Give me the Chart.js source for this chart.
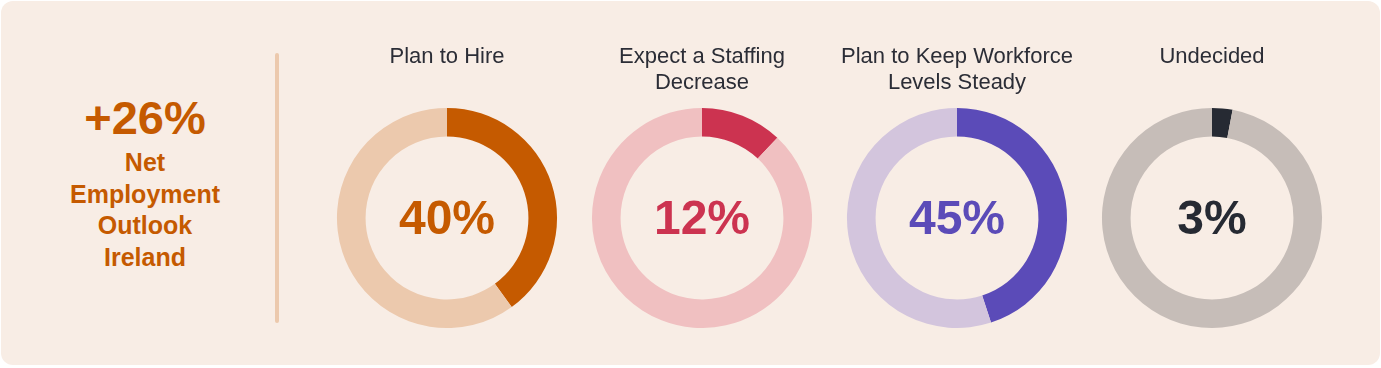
<!DOCTYPE html>
<html>
<head>
<meta charset="utf-8">
<script src="https://cdn.jsdelivr.net/npm/chart.js@4"></script>
<style>
  html, body { margin: 0; padding: 0; background: #ffffff; }
  .card {
    position: relative; width: 1379px; height: 364px; margin: 1px;
    background: #f8ede5; border-radius: 12px;
    font-family: "Liberation Sans", Arial, sans-serif; overflow: hidden;
  }
  .outlook {
    position: absolute; left: 24px; top: 92px; width: 240px;
    text-align: center; color: #c55a00; font-weight: bold;
  }
  .outlook .big { font-size: 47px; line-height: 50px; }
  .outlook .sub { font-size: 25px; line-height: 31.5px; margin-top: 4px; }
  .divider {
    position: absolute; left: 274px; top: 52px; width: 4px; height: 270px;
    background: #ecc9ad; border-radius: 2px;
  }
  .donut { position: absolute; top: 43px; width: 250px; height: 284px; }
</style>
</head>
<body>
<div class="card">
  <div class="outlook">
    <div class="big">+26%</div>
    <div class="sub">Net<br>Employment<br>Outlook<br>Ireland</div>
  </div>
  <div class="divider"></div>
  <div class="donut" style="left:321px"><canvas id="c0"></canvas></div>
  <div class="donut" style="left:576px"><canvas id="c1"></canvas></div>
  <div class="donut" style="left:831px"><canvas id="c2"></canvas></div>
  <div class="donut" style="left:1086px"><canvas id="c3"></canvas></div>
</div>
<script>
const categories = ['Plan to Hire', 'Expect a Staffing Decrease', 'Plan to Keep Workforce Levels Steady', 'Undecided']
const titleLines = [
  ['Plan to Hire', ''],
  ['Expect a Staffing', 'Decrease'],
  ['Plan to Keep Workforce', 'Levels Steady'],
  ['Undecided', '']
]
const shares = [40, 12, 45, 3]
const mainColors = ['#c55a00', '#cc3350', '#5b4bb8', '#262a33']
const trackColors = ['#ecc9ad', '#f0c0c1', '#d3c5dd', '#c6bdb8']

// writes the percentage in the hole of each doughnut
const centerLabel = {
  id: 'centerLabel',
  afterDraw(chart, args, opts) {
    const arc = chart.getDatasetMeta(0).data[0]
    const ctx = chart.ctx
    ctx.save()
    ctx.font = 'bold 48px "Liberation Sans", Arial, sans-serif'
    ctx.fillStyle = opts.color
    ctx.textAlign = 'center'
    ctx.textBaseline = 'middle'
    ctx.fillText(opts.text, arc.x, arc.y + 3)
    ctx.restore()
  }
}

categories.forEach((cat, i) => {
  new Chart(document.getElementById('c' + i), {
    type: 'doughnut',
    data: {
      labels: [cat, 'Other'],
      datasets: [{
        data: [shares[i], 100 - shares[i]],
        backgroundColor: [mainColors[i], trackColors[i]],
        borderWidth: 0,
        hoverOffset: 0
      }]
    },
    options: {
      responsive: true,
      maintainAspectRatio: false,
      animation: false,
      events: [],
      cutout: '74%',
      layout: { padding: 0 },
      plugins: {
        legend: { display: false },
        tooltip: { enabled: false },
        title: {
          display: true,
          text: titleLines[i],
          color: '#2b2d36',
          font: { family: '"Liberation Sans", Arial, sans-serif', size: 22, weight: 'normal', lineHeight: 1.18 },
          padding: { top: 0, bottom: 12 }
        },
        centerLabel: { text: shares[i] + '%', color: mainColors[i] }
      }
    },
    plugins: [centerLabel]
  })
})
</script>
</body>
</html>
